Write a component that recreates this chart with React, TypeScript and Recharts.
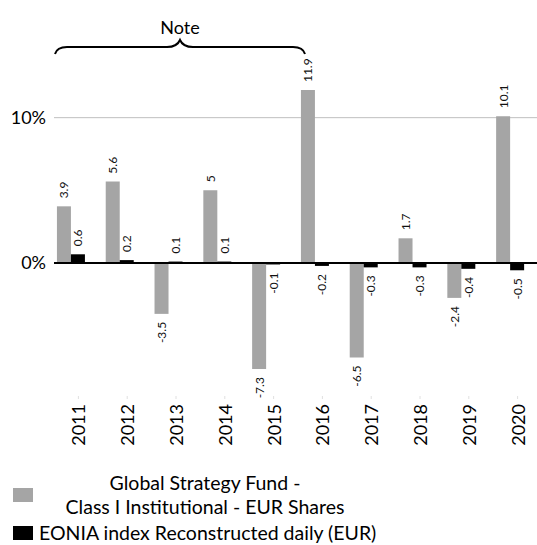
import React from 'react';
import { BarChart, Bar, XAxis, YAxis, CartesianGrid, ReferenceLine, LabelList } from 'recharts';

const years = ['2011', '2012', '2013', '2014', '2015', '2016', '2017', '2018', '2019', '2020'];
const fundReturns = [3.9, 5.6, -3.5, 5, -7.3, 11.9, -6.5, 1.7, -2.4, 10.1];
const eoniaReturns = [0.6, 0.2, 0.1, 0.1, -0.1, -0.2, -0.3, -0.3, -0.4, -0.5];
const yTicks = [0, 10];

const FUND_NAME = 'Global Strategy Fund - Class I Institutional - EUR Shares';
const EONIA_NAME = 'EONIA index Reconstructed daily (EUR)';

const FONT = 'Lato, "Open Sans", sans-serif';

const data = years.map((year, i) => ({
  year,
  fund: fundReturns[i],
  eonia: eoniaReturns[i],
}));

// rotated value label, above positive bars and below negative ones
function ValueLabel(props: any) {
  const { x, y, width, height, value } = props;
  if (value === undefined || value === null) return null;
  const cx = x + width / 2;
  const top = Math.min(y, y + height);
  const bottom = Math.max(y, y + height);
  const pos = value >= 0;
  const ty = pos ? top - 8 : bottom + 8;
  return (
    <text
      x={cx}
      y={ty}
      transform={`rotate(-90, ${cx}, ${ty})`}
      textAnchor={pos ? 'start' : 'end'}
      dominantBaseline="central"
      fontSize={12}
      fontFamily={FONT}
      fill="#111"
    >
      {value}
    </text>
  );
}

function YearTick(props: any) {
  const { x, y, payload } = props;
  const ty = y + 3;
  return (
    <text
      x={x}
      y={ty}
      transform={`rotate(-90, ${x}, ${ty})`}
      textAnchor="end"
      dominantBaseline="central"
      fontSize={18}
      fontFamily={FONT}
      fill="#000"
    >
      {payload.value}
    </text>
  );
}

function LegendBox() {
  return (
    <div style={{ fontFamily: FONT, fontSize: 19.5, color: '#000', lineHeight: '24px' }}>
      <div style={{ position: 'absolute', left: 0, top: 471, display: 'flex', alignItems: 'center', height: 48 }}>
        <span style={{ display: 'inline-block', width: 20, height: 14, background: '#a5a5a5', marginLeft: 13 }} />
        <span style={{ width: 344, textAlign: 'center' }}>
          Global Strategy Fund -<br />Class I Institutional - EUR Shares
        </span>
      </div>
      <div style={{ position: 'absolute', left: 0, top: 522, display: 'flex', alignItems: 'center', height: 22, lineHeight: '22px' }}>
        <span style={{ display: 'inline-block', width: 20, height: 14, background: '#000', marginLeft: 13 }} />
        <span style={{ marginLeft: 6, whiteSpace: 'nowrap' }}>{EONIA_NAME}</span>
      </div>
    </div>
  );
}

export default function App() {
  return (
    <div style={{ position: 'absolute', left: 0, top: 0, width: 537, height: 545, overflow: 'hidden', background: '#fff' }}>
      <BarChart
        width={542}
        height={456}
        data={data}
        margin={{ top: 45, right: 0, bottom: 0, left: 0 }}
        barCategoryGap="6%"
        barGap={0}
      >
        <CartesianGrid horizontal vertical={false} stroke="#bfbfbf" horizontalValues={yTicks} />
        <XAxis
          dataKey="year"
          axisLine={false}
          tickLine={{ stroke: '#e0e0e0' }}
          tickSize={3}
          height={60}
          interval={0}
          tick={<YearTick />}
        />
        <YAxis
          domain={[-9.15, 15]}
          ticks={yTicks}
          tickFormatter={(v: number) => `${v}%`}
          axisLine={false}
          tickLine={false}
          width={54}
          tick={{ fontSize: 18, fontFamily: FONT, fill: '#000' }}
        />
        <ReferenceLine y={0} stroke="#000" strokeWidth={2} />
        <Bar dataKey="fund" name={FUND_NAME} fill="#a5a5a5" isAnimationActive={false}>
          <LabelList dataKey="fund" content={<ValueLabel />} />
        </Bar>
        <Bar dataKey="eonia" name={EONIA_NAME} fill="#000" isAnimationActive={false}>
          <LabelList dataKey="eonia" content={<ValueLabel />} />
        </Bar>
        <Bar dataKey="spare" fill="transparent" legendType="none" isAnimationActive={false} />
      </BarChart>
      <LegendBox />
      <svg width={537} height={60} style={{ position: 'absolute', left: 0, top: 0 }}>
        <text x={180} y={27} textAnchor="middle" dominantBaseline="central" fontSize={18} fontFamily={FONT} fill="#000">
          Note
        </text>
        <path
          d="M55,54 Q57,47 67,47 L167,47 Q177,47 180,40 Q183,47 193,47 L293,47 Q303,47 305,54"
          fill="none"
          stroke="#000"
          strokeWidth={2}
        />
      </svg>
    </div>
  );
}
